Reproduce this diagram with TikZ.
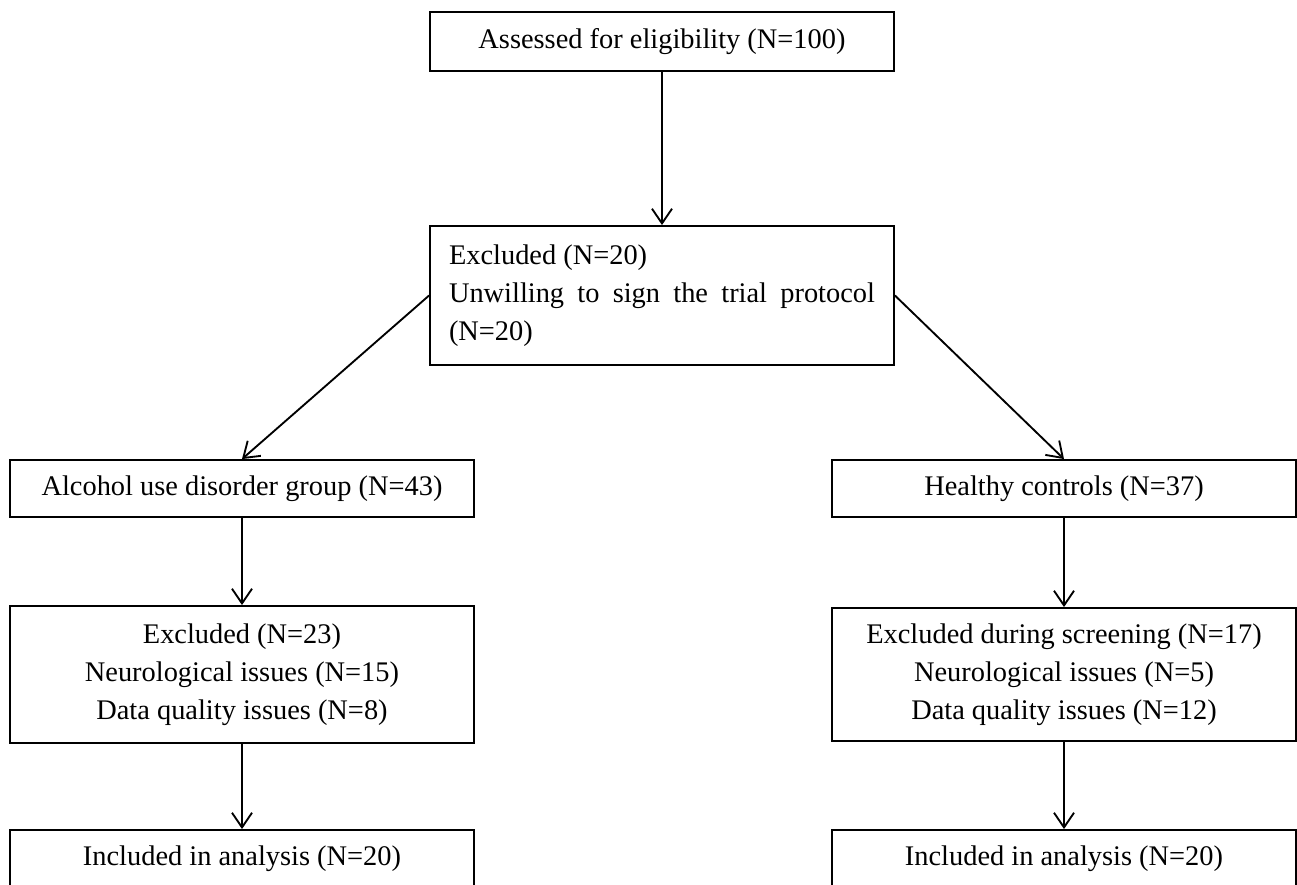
\documentclass[tikz,border=0pt]{standalone}
\usepackage{fontspec}
\setmainfont{Liberation Serif}
\usetikzlibrary{arrows.meta}
\tikzset{
  box/.style={draw=black, line width=1.4pt, minimum width=348pt, inner sep=0pt,
    font=\fontsize{21.3}{28.3}\selectfont, align=center},
  flow/.style={draw=black, line width=1.4pt, -{Straight Barb[length=11pt, width=15pt, line width=1.4pt]}}
}
\begin{document}
\begin{tikzpicture}[x=0.75pt, y=-0.75pt]
\clip (0,0) rectangle (1297,885);
\fill[white] (0,0) rectangle (1297,885);
\node[box, minimum height=44.25pt] (top) at (662,41.5) {Assessed for eligibility (N=100)};
\node[box, minimum height=104.25pt, text width=319.5pt, align=justify] (exc) at (662,295.5)
  {Excluded (N=20)\\ \hyphenpenalty=10000 Unwilling to sign the trial protocol\linebreak (N=20)};
\node[box, minimum height=42.75pt] (aud) at (242,488.5) {Alcohol use disorder group (N=43)};
\node[box, minimum height=42.75pt] (hc) at (1064,488.5) {Healthy controls (N=37)};
\node[box, minimum height=102.75pt] (ex1) at (242,674.5) {Excluded (N=23)\\Neurological issues (N=15)\\Data quality issues (N=8)};
\node[box, minimum height=99.75pt] (ex2) at (1064,674.5) {Excluded during screening (N=17)\\Neurological issues (N=5)\\Data quality issues (N=12)};
\node[box, minimum height=42.75pt] (inc1) at (242,858.5) {Included in analysis (N=20)};
\node[box, minimum height=42.75pt] (inc2) at (1064,858.5) {Included in analysis (N=20)};
\draw[flow] (top.south) -- (exc.north);
\draw[flow] (exc.west) -- (aud.north);
\draw[flow] (exc.east) -- (hc.north);
\draw[flow] (aud.south) -- (ex1.north);
\draw[flow] (hc.south) -- (ex2.north);
\draw[flow] (ex1.south) -- (inc1.north);
\draw[flow] (ex2.south) -- (inc2.north);
\end{tikzpicture}
\end{document}
